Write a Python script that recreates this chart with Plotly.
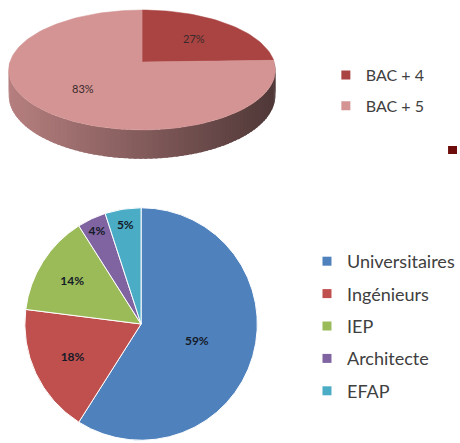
import math
import plotly.graph_objects as go

# ---------------- data ----------------
top_labels = ["BAC + 4", "BAC + 5"]
top_values = [27, 83]
top_colors = ["#A94442", "#D49494"]

bottom_labels = ["Universitaires", "Ingénieurs", "IEP", "Architecte", "EFAP"]
bottom_values = [59, 18, 14, 4, 5]
bottom_colors = ["#4F81BD", "#C0504D", "#9BBB59", "#8064A2", "#4BACC6"]

W, H = 460, 443
FONT = "Lato"

fig = go.Figure()

# ---------------- top: 3D-looking pie built from scatter polygons ----------------
cx, cy = 143.0, 62.0
rx, ry = 133.0, 58.9
k = 0.133          # perspective factor
depth = 25.0       # thickness of the side


def proj(a_deg, r=1.0, dz=0.0):
    a = math.radians(a_deg)
    u = r * math.sin(a)
    v = -r * math.cos(a)
    w = 1 - k * v
    return cx + rx * u / w, cy + (ry * v + dz) / w


def hex_rgb(h):
    h = h.lstrip("#")
    return tuple(int(h[i:i + 2], 16) for i in (0, 2, 4))


total_top = sum(top_values)
bounds = []
acc = 0.0
for v in top_values:
    a0 = 360.0 * acc / total_top
    acc += v
    a1 = 360.0 * acc / total_top
    bounds.append((a0, a1))

# side band (visible front half: 90..270 deg clockwise from top), shaded left->right
for (a0, a1), col in zip(bounds, top_colors):
    s0, s1 = max(a0, 90.0), min(a1, 270.0)
    if s1 <= s0:
        continue
    base = hex_rgb(col)
    n = 90
    step = (s1 - s0) / n
    for i in range(n):
        t0 = s0 + i * step
        t1 = min(s1, t0 + step * 1.6)
        xs, ys = [], []
        for j in range(4):
            t = t0 + (t1 - t0) * j / 3
            x, y = proj(t)
            xs.append(x); ys.append(y)
        for j in range(3, -1, -1):
            t = t0 + (t1 - t0) * j / 3
            x, y = proj(t, dz=depth)
            xs.append(x); ys.append(y)
        xm, _ = proj(t0 + step / 2)
        frac = (xm - (cx - rx)) / (2 * rx)
        f = 0.86 - 0.48 * frac
        c = "rgb(%d,%d,%d)" % tuple(int(ch * f) for ch in base)
        fig.add_trace(go.Scatter(x=xs, y=ys, fill="toself", mode="lines",
                                 line=dict(width=0), fillcolor=c,
                                 showlegend=False, hoverinfo="skip"))

# top faces
for (a0, a1), col, lab, val in zip(bounds, top_colors, top_labels, top_values):
    xs, ys = [cx], [cy]
    n = max(4, int((a1 - a0) / 2))
    for i in range(n + 1):
        x, y = proj(a0 + (a1 - a0) * i / n)
        xs.append(x); ys.append(y)
    xs.append(cx); ys.append(cy)
    fig.add_trace(go.Scatter(x=xs, y=ys, fill="toself", mode="lines",
                             line=dict(width=0.5, color=col), fillcolor=col,
                             showlegend=False, name=lab,
                             hovertemplate=f"{lab}: {val}%<extra></extra>"))
    lx, ly = proj((a0 + a1) / 2, r=0.6)
    fig.add_annotation(x=lx, y=ly, text=f"{val}%", showarrow=False,
                       font=dict(family=FONT, size=11, color="#3a2a2a"))

# legend entries for top pie
for lab, col in zip(top_labels, top_colors):
    fig.add_trace(go.Scatter(x=[None], y=[None], mode="markers", name=lab,
                             marker=dict(symbol="square", size=9, color=col),
                             legend="legend", legendgroup=lab, showlegend=True))

# ---------------- bottom: regular pie ----------------
pcx, pcy, pr = 142.0, 324.0, 117.0
fig.add_trace(go.Pie(
    labels=bottom_labels, values=bottom_values,
    sort=False, direction="clockwise", rotation=0,
    marker=dict(colors=bottom_colors, line=dict(color="white", width=1)),
    texttemplate="%{value}%", textposition="inside",
    insidetextorientation="horizontal",
    textfont=dict(family=FONT, size=12, color="#141a28", weight="bold"),
    domain=dict(x=[(pcx - pr) / W, (pcx + pr) / W],
                y=[1 - (pcy + pr) / H, 1 - (pcy - pr) / H]),
    showlegend=False, hoverinfo="label+percent",
))

for lab, col in zip(bottom_labels, bottom_colors):
    fig.add_trace(go.Scatter(x=[None], y=[None], mode="markers", name=lab,
                             marker=dict(symbol="square", size=9, color=col),
                             legend="legend2", legendgroup=lab, showlegend=True))

# decorative small square on the slide
fig.add_shape(type="rect", xref="paper", yref="paper",
              x0=451 / W, x1=460 / W, y0=1 - 154 / H, y1=1 - 146 / H,
              fillcolor="#6E0B0B", line=dict(width=0))

fig.update_layout(
    width=W, height=H,
    margin=dict(l=0, r=0, t=0, b=0),
    paper_bgcolor="white", plot_bgcolor="white",
    xaxis=dict(range=[0, W], visible=False, fixedrange=True),
    yaxis=dict(range=[H, 0], visible=False, fixedrange=True),
    uniformtext=dict(minsize=12, mode="show"),
    legend=dict(x=328 / W, y=1 - 58 / H, xanchor="left", yanchor="top",
                font=dict(family=FONT, size=16, color="#404040"),
                bgcolor="rgba(0,0,0,0)", tracegroupgap=7),
    legend2=dict(x=309 / W, y=1 - 243 / H, xanchor="left", yanchor="top",
                 font=dict(family=FONT, size=18, color="#404040"),
                 bgcolor="rgba(0,0,0,0)", tracegroupgap=6),
)

fig.write_html("out.html",
               config={"displayModeBar": False},
               post_script="document.body.style.margin='0';"
                           "document.body.style.overflow='hidden';")
